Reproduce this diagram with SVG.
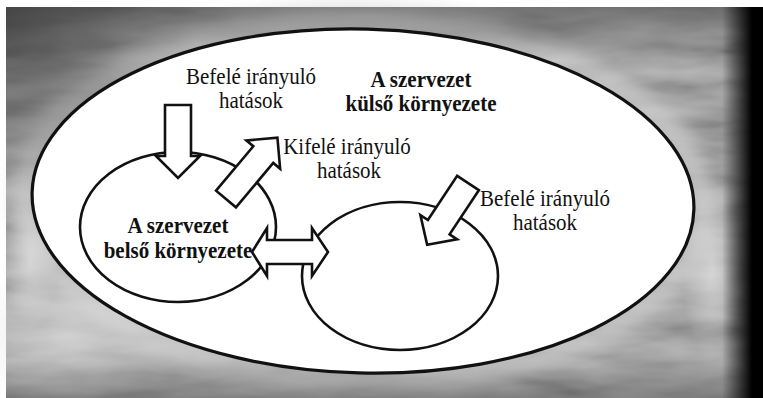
<svg xmlns="http://www.w3.org/2000/svg" width="763" height="398" viewBox="0 0 763 398">
  <defs>
    <style>
      .ring { fill: #ffffff; stroke: #111111; }
      .outer { stroke-width: 3.2; }
      .inner { stroke-width: 2.6; }
      .block { fill: #ffffff; stroke: #111111; stroke-width: 2.6; stroke-linejoin: miter; }
      .lbl { font-family: "Liberation Serif", "Times New Roman", serif; font-size: 21px; fill: #111111; text-anchor: middle; }
      .bold { font-weight: bold; }
    </style>
    <!-- block arrows pointing along +x -->
    <path id="arrow80" d="M0,-13 L58,-13 L58,-22 L80,0 L58,22 L58,13 L0,13 Z"/>
    <path id="arrow74" d="M0,-13 L53,-13 L53,-22 L74,0 L53,22 L53,13 L0,13 Z"/>
    <path id="arrow73" d="M0,-13 L51,-13 L51,-22 L73,0 L51,22 L51,13 L0,13 Z"/>
    <linearGradient id="rightShade" gradientUnits="userSpaceOnUse" x1="722" y1="0" x2="752" y2="0">
      <stop offset="0" stop-color="#000" stop-opacity="0"/>
      <stop offset="1" stop-color="#000" stop-opacity="1"/>
    </linearGradient>
    <linearGradient id="topShade" gradientUnits="userSpaceOnUse" x1="0" y1="7" x2="0" y2="60">
      <stop offset="0" stop-color="#3a3a3a" stop-opacity="0.5"/>
      <stop offset="1" stop-color="#3a3a3a" stop-opacity="0"/>
    </linearGradient>
    <linearGradient id="bottomShade" gradientUnits="userSpaceOnUse" x1="0" y1="360" x2="0" y2="398">
      <stop offset="0" stop-color="#3a3a3a" stop-opacity="0"/>
      <stop offset="1" stop-color="#3a3a3a" stop-opacity="0.35"/>
    </linearGradient>
    <radialGradient id="cornerShade" gradientUnits="userSpaceOnUse" cx="0" cy="0" r="200">
      <stop offset="0" stop-color="#2a2a2a" stop-opacity="0.75"/>
      <stop offset="1" stop-color="#2a2a2a" stop-opacity="0"/>
    </radialGradient>
    <radialGradient id="lightPatch" gradientUnits="userSpaceOnUse" cx="0" cy="0" r="1">
      <stop offset="0" stop-color="#e4e4e4" stop-opacity="0.7"/>
      <stop offset="1" stop-color="#e4e4e4" stop-opacity="0"/>
    </radialGradient>
    <filter id="grain" x="0" y="0" width="100%" height="100%">
      <feTurbulence type="fractalNoise" baseFrequency="0.012 0.05" numOctaves="3" seed="11"/>
      <feColorMatrix type="matrix" values="1 0 0 0 0  1 0 0 0 0  1 0 0 0 0  0 0 0 0 1"/>
    </filter>
    <filter id="halo" x="-20%" y="-20%" width="140%" height="140%">
      <feGaussianBlur stdDeviation="9"/>
    </filter>
  </defs>

  <!-- paper margin and mottled grey backdrop -->
  <g id="backdrop">
    <rect width="763" height="398" fill="#ffffff"/>
    <rect x="6" y="7" width="757" height="391" fill="#979797"/>
    <rect x="6" y="7" width="757" height="391" filter="url(#grain)" opacity="0.35"/>
    <ellipse cx="363" cy="201" rx="338" ry="180" fill="none" stroke="#d2d2d2" stroke-width="26" opacity="0.7" filter="url(#halo)" transform="rotate(1.5 363 201)"/>
    <ellipse cx="0" cy="0" rx="1" ry="1" fill="url(#lightPatch)" transform="translate(70 335) scale(130 70)"/>
    <ellipse cx="0" cy="0" rx="1" ry="1" fill="url(#lightPatch)" transform="translate(712 270) scale(30 90)"/>
    <ellipse cx="0" cy="0" rx="1" ry="1" fill="url(#lightPatch)" transform="translate(360 16) scale(160 22)"/>
    <ellipse cx="0" cy="0" rx="1" ry="1" fill="url(#lightPatch)" transform="translate(30 260) scale(28 70)"/>
    <rect x="6" y="7" width="757" height="391" fill="url(#cornerShade)"/>
    <rect x="6" y="7" width="757" height="391" fill="url(#topShade)"/>
    <rect x="6" y="7" width="757" height="391" fill="url(#bottomShade)"/>
    <rect x="722" y="7" width="41" height="391" fill="url(#rightShade)"/>
  </g>

  <!-- outer environment -->
  <g id="outer-environment">
    <ellipse class="ring outer" cx="363" cy="201" rx="331" ry="172" transform="rotate(1.5 363 201)"/>
  </g>

  <!-- the organisation itself -->
  <g id="inner-environment">
    <ellipse class="ring inner" cx="178" cy="227" rx="98" ry="75"/>
  </g>

  <!-- neighbouring system -->
  <g id="partner-system">
    <ellipse class="ring inner" cx="400" cy="276" rx="98" ry="74"/>
  </g>

  <!-- block arrows -->
  <g id="connectors">
    <use href="#arrow73" class="block" transform="translate(178 105) rotate(90)"/>
    <use href="#arrow80" class="block" transform="translate(226 199) rotate(-50)"/>
    <use href="#arrow74" class="block" transform="translate(468 183) rotate(123.5)"/>
    <path class="block" d="M252,252 L267,228 L267,240 L312,240 L312,228 L328,252 L312,276 L312,264 L267,264 L267,276 Z"/>
  </g>

  <!-- labels (slightly tall, narrow type) -->
  <g id="labels">
    <g id="label-inward-top">
      <text class="lbl" transform="translate(251 84) scale(1 1.1)">Befelé irányuló</text>
      <text class="lbl" transform="translate(251 108) scale(1 1.1)">hatások</text>
    </g>
    <g id="label-outer">
      <text class="lbl bold" transform="translate(421 87) scale(1 1.1)">A szervezet</text>
      <text class="lbl bold" transform="translate(421 111) scale(1 1.1)">külső környezete</text>
    </g>
    <g id="label-outward">
      <text class="lbl" transform="translate(347 154) scale(1 1.1)">Kifelé irányuló</text>
      <text class="lbl" transform="translate(349 178) scale(1 1.1)">hatások</text>
    </g>
    <g id="label-inward-right">
      <text class="lbl" transform="translate(545 206) scale(1 1.1)">Befelé irányuló</text>
      <text class="lbl" transform="translate(545 230) scale(1 1.1)">hatások</text>
    </g>
    <g id="label-inner">
      <text class="lbl bold" transform="translate(178 233) scale(1 1.1)">A szervezet</text>
      <text class="lbl bold" transform="translate(178 258) scale(1 1.1)">belső környezete</text>
    </g>
  </g>
</svg>
